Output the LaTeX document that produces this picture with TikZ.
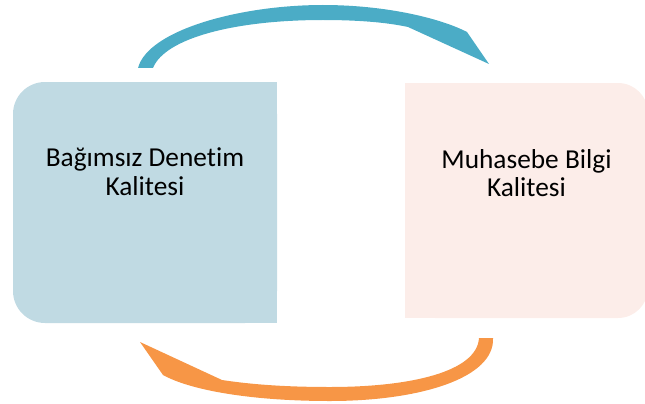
\documentclass[tikz,border=0pt]{standalone}
\usepackage{fontspec}
\setmainfont{Carlito}[Ligatures=NoCommon]
\usetikzlibrary{positioning}
\definecolor{boxblue}{RGB}{192,218,227}
\definecolor{boxpink}{RGB}{252,237,233}
\definecolor{arrowteal}{RGB}{75,172,198}
\definecolor{arroworange}{RGB}{247,150,70}

\begin{document}
\begin{tikzpicture}[x=0.75pt,y=-0.75pt,
  every node/.style={inner sep=0pt,outer sep=0pt},
  box/.style={rounded corners=24pt,minimum width=198pt,minimum height=180.75pt},
  boxtext/.style={align=center,font=\fontsize{20.5}{21.5}\selectfont,text=black}]
\useasboundingbox (0,0) rectangle (645,403);
\clip (0,0) rectangle (645,403);

\node[box,fill=boxblue](denetim) at (145,202.5) {};
\fill[boxblue] (denetim.north) rectangle (denetim.south east);
\node[box,fill=boxpink,minimum width=182.25pt,minimum height=176.25pt,rounded corners=22.5pt](muhasebe) at (526.5,200.5) {};
\fill[boxpink] (muhasebe.north west) rectangle (muhasebe.south);

\node[boxtext](denetimtext) at ([yshift=23pt]denetim.center) {Bağımsız Denetim\\Kalitesi};
\node[boxtext](muhasebetext) at ([yshift=20.5pt]muhasebe.center) {Muhasebe Bilgi\\Kalitesi};

\fill[arrowteal] (138,68) .. controls (148,30) and (240,5) .. (323,5) .. controls (385,5) and (440,18) .. (467,32) -- (489,64) -- (408,27) .. controls (385,22) and (355,20) .. (323,20) .. controls (235,20) and (165,38) .. (153,68) -- cycle;
\fill[arroworange] (493,338) .. controls (495,378) and (420,401) .. (330,401) .. controls (250,401) and (190,390) .. (163,375) -- (140,342) -- (222,380) .. controls (255,385) and (290,387) .. (330,387) .. controls (410,387) and (477,372) .. (479,338) -- cycle;
\end{tikzpicture}
\end{document}
